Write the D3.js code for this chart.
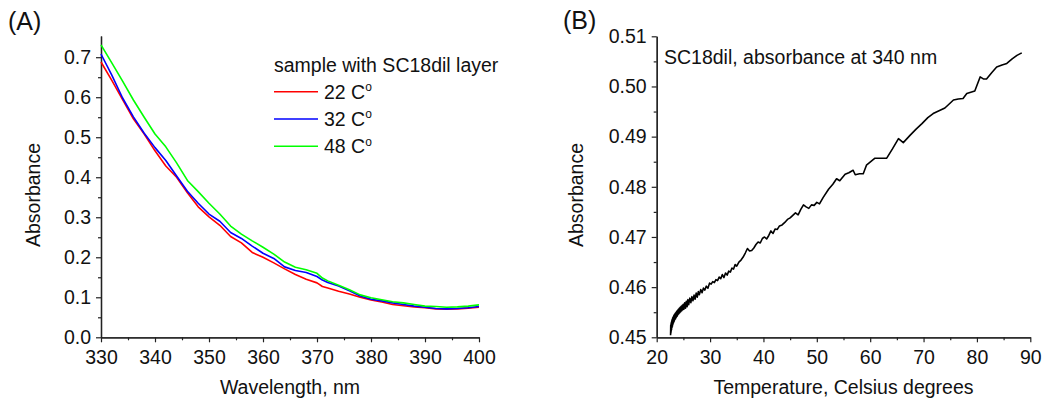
<!DOCTYPE html>
<html>
<head>
<meta charset="utf-8">
<script src="https://cdn.jsdelivr.net/npm/d3@7/dist/d3.min.js"></script>
<style>
  html, body { margin: 0; padding: 0; background: #fff; }
  svg { display: block; font-family: "Liberation Sans", Arial, sans-serif; }
</style>
</head>
<body>
<svg id="chart" width="1047" height="405"></svg>
<script>
// ---------- Panel A data ----------
const wavelengths = [330,332,334,336,338,340,342,344,346,348,350,352,354,356,358,360,362,364,366,368,370,371,372,374,376,378,380,382,384,386,388,390,392,394,396,398,400];
const abs22 = [0.688,0.642,0.594,0.546,0.508,0.466,0.428,0.400,0.361,0.326,0.301,0.280,0.252,0.236,0.212,0.200,0.186,0.171,0.157,0.145,0.136,0.127,0.123,0.115,0.108,0.100,0.093,0.088,0.082,0.079,0.076,0.074,0.071,0.070,0.071,0.073,0.075];
const abs32 = [0.708,0.655,0.598,0.551,0.510,0.474,0.442,0.403,0.365,0.335,0.308,0.290,0.262,0.247,0.228,0.210,0.197,0.176,0.167,0.162,0.152,0.143,0.137,0.128,0.116,0.103,0.095,0.091,0.086,0.082,0.078,0.075,0.072,0.071,0.072,0.074,0.077];
const abs48 = [0.731,0.686,0.640,0.593,0.550,0.508,0.476,0.436,0.392,0.364,0.335,0.308,0.278,0.258,0.241,0.225,0.208,0.188,0.175,0.169,0.160,0.148,0.141,0.130,0.119,0.106,0.099,0.094,0.089,0.086,0.082,0.078,0.077,0.075,0.076,0.078,0.081];
const seriesNames = ["22 C", "32 C", "48 C"];
const seriesColors = ["#ff0000", "#0000ff", "#00ff00"];
const ticksA_x = [330,340,350,360,370,380,390,400];
const ticksA_y = [0.0,0.1,0.2,0.3,0.4,0.5,0.6,0.7];

// ---------- Panel B data ----------
const temps = [22.60,22.63,22.66,22.69,22.72,22.75,22.78,22.82,22.86,22.90,22.95,23.00,23.05,23.10,23.16,23.22,23.28,23.34,23.40,23.47,23.54,23.61,23.68,23.75,23.83,23.91,23.99,24.07,24.15,24.23,24.32,24.41,24.50,24.60,24.70,24.80,24.90,25.00,25.1,25.25,25.4,25.55,25.7,25.85,26.0,26.2,26.4,26.6,26.8,27.0,27.2,27.4,27.6,27.8,28.0,28.25,28.5,28.75,29.0,29.3,29.6,29.9,30.2,30.5,30.8,31.1,31.4,31.7,32.0,32.3,32.6,32.9,33.2,33.5,33.8,34.1,34.4,34.7,35.0,35.4,35.8,36.2,36.6,37.0,37.4,37.8,38.2,38.6,39.0,39.4,39.8,40.2,40.6,41.0,41.4,41.8,42.2,42.6,43.0,43.5,44.0,44.5,45.0,45.5,46.0,46.5,47.0,47.5,48.0,48.5,49.0,49.5,50.0,50.5,51.2,52.2,53.0,53.7,54.3,55.3,56.0,56.8,57.2,58.0,58.7,59.3,60.1,60.9,62.0,63.1,64.2,65.3,66.2,67.5,68.6,69.7,70.8,71.8,73.0,74.0,75.6,76.5,77.4,78.1,79.6,80.6,81.2,81.8,82.8,83.7,84.7,85.6,86.6,87.5,88.4];
const absT = [0.4504,0.4524,0.4508,0.4527,0.4512,0.4530,0.4515,0.4533,0.4519,0.4536,0.4522,0.4539,0.4526,0.4541,0.4529,0.4544,0.4532,0.4546,0.4535,0.4548,0.4537,0.4550,0.4540,0.4552,0.4542,0.4554,0.4545,0.4556,0.4547,0.4558,0.4549,0.4560,0.4551,0.4562,0.4553,0.4564,0.4555,0.4566,0.4556,0.4569,0.4558,0.4572,0.4561,0.4575,0.4565,0.4578,0.4569,0.4581,0.4573,0.4584,0.4576,0.4588,0.4580,0.4591,0.4585,0.4595,0.4589,0.4598,0.4594,0.4602,0.4598,0.4608,0.4606,0.4611,0.4609,0.4615,0.4613,0.4620,0.4617,0.4625,0.4619,0.4628,0.4624,0.4632,0.4630,0.4638,0.4636,0.4645,0.4642,0.4650,0.4654,0.4660,0.4668,0.4677,0.4672,0.4673,0.4678,0.4685,0.4690,0.4688,0.4697,0.4700,0.4696,0.4703,0.4712,0.4707,0.4716,0.4715,0.4722,0.4724,0.4729,0.4735,0.4738,0.4743,0.4748,0.4744,0.4755,0.4764,0.4760,0.4757,0.4764,0.4763,0.4769,0.4766,0.4779,0.4795,0.4805,0.4816,0.4812,0.4825,0.4828,0.4833,0.4824,0.4826,0.4826,0.4843,0.4850,0.4857,0.4857,0.4857,0.4876,0.4896,0.4888,0.4903,0.4915,0.4926,0.4938,0.4946,0.4952,0.4957,0.4973,0.4975,0.4976,0.4986,0.4991,0.5019,0.5015,0.5015,0.5028,0.5039,0.5043,0.5046,0.5055,0.5062,0.5067];
const ticksB_x = [20,30,40,50,60,70,80,90];
const ticksB_y = [0.45,0.46,0.47,0.48,0.49,0.50,0.51];

// ---------- Drawing ----------
const svg = d3.select("#chart");
const FS = 19.5;
const axisColor = "#222";

function styleAxis(g) {
  g.select(".domain").attr("stroke", axisColor).attr("stroke-width", 1.3);
  g.selectAll(".tick line").attr("stroke", axisColor).attr("stroke-width", 1.2);
  g.selectAll(".tick text").attr("fill", "#111").style("font-size", FS + "px").style("font-family", '"Liberation Sans", Arial, sans-serif');
}

function drawPanel(opts) {
  const { x, y, xTicks, yTicks, xMinor, yMinor, yFmt } = opts;
  const y0 = y.range()[0];
  const x0 = x.range()[0];
  svg.append("g").attr("transform", `translate(0,${y0})`)
    .call(d3.axisBottom(x).tickValues(xMinor).tickSize(3).tickFormat("").tickSizeOuter(0))
    .call(styleAxis);
  svg.append("g").attr("transform", `translate(${x0},0)`)
    .call(d3.axisLeft(y).tickValues(yMinor).tickSize(3).tickFormat("").tickSizeOuter(0))
    .call(styleAxis);
  svg.append("g").attr("transform", `translate(0,${y0})`)
    .call(d3.axisBottom(x).tickValues(xTicks).tickSize(5).tickPadding(7.5).tickFormat(d3.format("d")).tickSizeOuter(0))
    .call(styleAxis);
  svg.append("g").attr("transform", `translate(${x0},0)`)
    .call(d3.axisLeft(y).tickValues(yTicks).tickSize(5).tickPadding(5).tickFormat(yFmt).tickSizeOuter(0))
    .call(styleAxis);
}

// Panel A
const xA = d3.scaleLinear().domain([330, 400]).range([101, 479]);
const yA = d3.scaleLinear().domain([0, 0.753]).range([337.3, 36]);
drawPanel({
  x: xA, y: yA, xTicks: ticksA_x, yTicks: ticksA_y,
  xMinor: d3.range(335, 400, 10), yMinor: d3.range(0.05, 0.75, 0.1),
  yFmt: d3.format(".1f")
});

const lineA = d3.line().x(d => xA(d[0])).y(d => yA(d[1]));
[abs22, abs32, abs48].forEach((vals, i) => {
  svg.append("path")
    .datum(wavelengths.map((w, j) => [w, vals[j]]))
    .attr("fill", "none").attr("stroke", seriesColors[i]).attr("stroke-width", 1.6)
    .attr("stroke-linejoin", "round")
    .attr("d", lineA);
});

svg.append("text").attr("x", 8).attr("y", 30).style("font-size", "25px").attr("fill", "#111").text("(A)");
svg.append("text").attr("x", 290).attr("y", 394).attr("text-anchor", "middle").style("font-size", FS + "px").attr("fill", "#111").text("Wavelength, nm");
svg.append("text").attr("transform", "translate(40,195) rotate(-90)").attr("text-anchor", "middle").style("font-size", FS + "px").attr("fill", "#111").text("Absorbance");

// Legend
svg.append("text").attr("x", 274).attr("y", 71.5).style("font-size", FS + "px").attr("fill", "#111").text("sample with SC18dil layer");
seriesNames.forEach((name, i) => {
  const ly = 91.7 + i * 27.3;
  svg.append("line").attr("x1", 274).attr("x2", 318).attr("y1", ly).attr("y2", ly)
    .attr("stroke", seriesColors[i]).attr("stroke-width", 1.6);
  const t = svg.append("text").attr("x", 324).attr("y", ly + 6.8).style("font-size", FS + "px").attr("fill", "#111");
  t.append("tspan").text(name);
  t.append("tspan").attr("dy", -7.5).style("font-size", "12px").text("o");
});

// Panel B
const xB = d3.scaleLinear().domain([20, 90]).range([656.7, 1030.3]);
const yB = d3.scaleLinear().domain([0.45, 0.51]).range([337.3, 36.3]);
drawPanel({
  x: xB, y: yB, xTicks: ticksB_x, yTicks: ticksB_y,
  xMinor: d3.range(25, 90, 10), yMinor: d3.range(0.455, 0.51, 0.01),
  yFmt: d3.format(".2f")
});

const lineB = d3.line().x(d => xB(d[0])).y(d => yB(d[1]));
svg.append("path")
  .datum(temps.map((t, j) => [t, absT[j]]))
  .attr("fill", "none").attr("stroke", "#000").attr("stroke-width", 1.6)
  .attr("stroke-linejoin", "round")
  .attr("d", lineB);

svg.append("text").attr("x", 563).attr("y", 29).style("font-size", "25px").attr("fill", "#111").text("(B)");
svg.append("text").attr("x", 843.5).attr("y", 394).attr("text-anchor", "middle").style("font-size", FS + "px").attr("fill", "#111").text("Temperature, Celsius degrees");
svg.append("text").attr("transform", "translate(583,195) rotate(-90)").attr("text-anchor", "middle").style("font-size", FS + "px").attr("fill", "#111").text("Absorbance");
svg.append("text").attr("x", 664).attr("y", 64).style("font-size", FS + "px").attr("fill", "#111").text("SC18dil, absorbance at 340 nm");
</script>
</body>
</html>
